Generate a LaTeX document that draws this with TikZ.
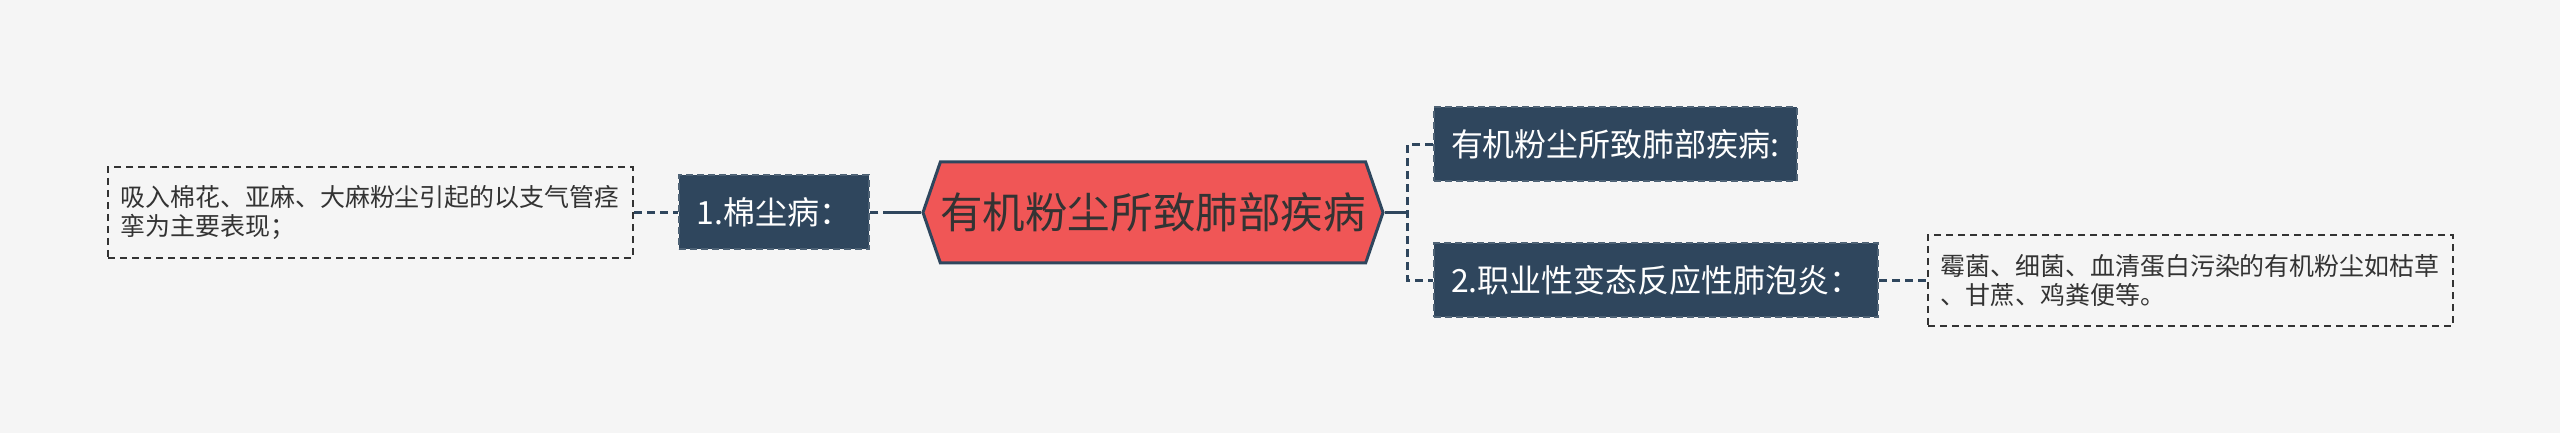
\documentclass[tikz,border=0pt]{standalone}
\usepackage{fontspec}
\setmainfont{Noto Sans CJK SC}
\usetikzlibrary{shapes.symbols}
\definecolor{bgc}{HTML}{F5F5F5}
\definecolor{navy}{HTML}{2F465D}
\definecolor{rootred}{HTML}{F05656}
\definecolor{ink}{HTML}{333333}

\begin{document}
\begin{tikzpicture}[x=0.1mm, y=-0.1mm,
	link/.style={draw=navy, line width=0.25mm, dash pattern=on 0.8mm off 0.5mm},
	solidlink/.style={draw=navy, line width=0.25mm},
	rootnode/.style={signal, signal to=west and east, signal pointer angle=142, fill=rootred, draw=navy, line width=0.3mm, minimum width=43.5mm, minimum height=10.1mm, inner sep=0pt, text=ink, font=\fontsize{12.1}{14}\selectfont},
	topic/.style={fill=navy, draw=navy!85!white, line width=0.2mm, dash pattern=on 0.7mm off 0.4mm, text=white, minimum height=7.4mm, inner xsep=1.7mm, inner ysep=0pt, font=\fontsize{9.1}{11}\selectfont},
	note/.style={draw=ink, fill=bgc, line width=0.2mm, dash pattern=on 0.7mm off 0.5mm, text=ink, text width=50mm, align=left, inner xsep=1.25mm, minimum height=9.1mm, font=\fontsize{7.1}{8.25}\selectfont}]
				\fill[bgc] (0,0) rectangle (2560,433);
				
				% 中心主题
				\node[rootnode] (root) at (1153,212.5) {有机粉尘所致肺部疾病};
				
				% 左侧分支
				\node[topic, minimum width=19mm] (n1) at (774,212.5) {1.棉尘病：};
				\node[note] (txtL) at (370.5,212.5) {吸入棉花、亚麻、大麻粉尘引起的以支气管痉\\挛为主要表现；};
				
				% 右侧分支
				\node[topic, anchor=west] (nA) at (1433,144.5) {有机粉尘所致肺部疾病:};
				\node[topic, anchor=west] (nB) at (1433,280.5) {2.职业性变态反应性肺泡炎：};
				\node[note, anchor=west] (txtR) at (1927,280.5) {霉菌、细菌、血清蛋白污染的有机粉尘如枯草\\、甘蔗、鸡粪便等。};
				
				% 连线
				\coordinate (kL) at ([xshift=-3mm]root.west);
				\coordinate (kR) at ([xshift=2.3mm]root.east);
				\draw[solidlink] (root.west) -- (kL);
				\draw[link] (kL) -- (n1.east);
				\draw[link] (txtL.east) -- (n1.west);
				\draw[solidlink] (root.east) -- (kR);
				\draw[link] (nA.west) -| (kR) |- (nB.west);
				\draw[link] (nB.east) -- (txtR.west);
			\end{tikzpicture}
\end{document}
